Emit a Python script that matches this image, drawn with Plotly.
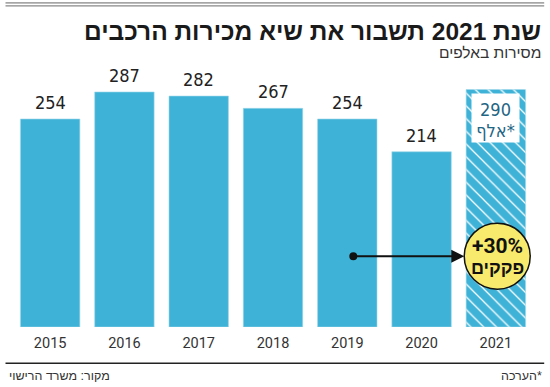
import plotly.graph_objects as go

years = ["2015", "2016", "2017", "2018", "2019", "2020", "2021"]
sales = [254, 287, 282, 267, 254, 214, 290]
value_labels = ["254", "287", "282", "267", "254", "214", ""]
patterns = ["", "", "", "", "", "", "\\"]

title = "שנת 2021 תשבור את שיא מכירות הרכבים"
subtitle = "מסירות באלפים"
source = "מקור: משרד הרישוי"
note = "הערכה*"
est_value = "290"
est_unit = "אלף*"
bubble_top = "+30%"
bubble_bottom = "פקקים"

W, H = 550, 387
L, R, T, B = 12.5, 17.2, 60, 60.3
PW = W - L - R
PH = H - T - B
BASE = H - B
YMAX = PH / 0.818

def px(x):
    return (x - L) / PW

def py(y):
    return (BASE - y) / PH

BLUE = "#3fb3d7"
NARROW = "Liberation Sans Narrow, DejaVu Sans Condensed, Roboto, sans-serif"
HEB = "Liberation Sans, DejaVu Sans, sans-serif"

fig = go.Figure()
fig.add_trace(go.Bar(
    x=years, y=sales,
    marker=dict(color=BLUE, line=dict(color="#9fd6ea", width=0.6),
                pattern=dict(shape=patterns, fgcolor="white", bgcolor=BLUE,
                             size=9, solidity=0.14, fillmode="replace")),
    hoverinfo="skip",
))

ann = []
for i, (v, lab) in enumerate(zip(sales, value_labels)):
    if lab:
        ann.append(dict(x=i, y=v, text=lab, showarrow=False, yanchor="bottom",
                        yshift=4, font=dict(family=NARROW, size=18, color="#222")))

# estimate box on 2021 bar
last = len(years) - 1
ann.append(dict(x=last, y=sales[last], text=est_value, showarrow=False,
                yanchor="top", yshift=-3.5, width=47, height=26, bgcolor="white",
                borderpad=0, valign="bottom",
                font=dict(family=NARROW, size=18, color="#1f6685")))
ann.append(dict(x=last, y=sales[last], text=est_unit, showarrow=False,
                yanchor="top", yshift=-29.5, width=47, height=22, bgcolor="white",
                borderpad=0, valign="top",
                font=dict(family=NARROW, size=18, color="#1f6685")))

# title / subtitle
ann.append(dict(xref="paper", yref="paper", x=px(543), y=py(32), text="<b>" + title + "</b>",
                showarrow=False, xanchor="right", yanchor="middle",
                font=dict(family=HEB, size=24.5, color="#1a1a1a")))
ann.append(dict(xref="paper", yref="paper", x=px(543), y=py(53), text=subtitle,
                showarrow=False, xanchor="right", yanchor="middle",
                font=dict(family=HEB, size=15.5, color="#333")))
# footer
ann.append(dict(xref="paper", yref="paper", x=px(6), y=py(376), text=source,
                showarrow=False, xanchor="left", yanchor="middle",
                font=dict(family=HEB, size=12.5, color="#333")))
ann.append(dict(xref="paper", yref="paper", x=px(544), y=py(376), text=note,
                showarrow=False, xanchor="right", yanchor="middle",
                font=dict(family=HEB, size=12.5, color="#333")))

# arrow
ann.append(dict(xref="paper", yref="paper", x=px(464), y=py(256), ax=-110, ay=0,
                text="", showarrow=True, arrowhead=2, arrowsize=1.3, arrowwidth=2,
                arrowcolor="#111"))
# bubble text
ann.append(dict(xref="paper", yref="paper", x=px(497), y=py(246), text="<b>" + bubble_top + "</b>",
                showarrow=False, xanchor="center", yanchor="middle",
                font=dict(family="Roboto, sans-serif", size=21, color="#111")))
ann.append(dict(xref="paper", yref="paper", x=px(497), y=py(268), text="<b>" + bubble_bottom + "</b>",
                showarrow=False, xanchor="center", yanchor="middle",
                font=dict(family=HEB, size=18, color="#111")))

shapes = [
    dict(type="line", xref="paper", yref="paper", x0=px(5), x1=px(544), y0=py(3), y1=py(3),
         line=dict(color="#666", width=1)),
    dict(type="line", xref="paper", yref="paper", x0=px(5), x1=px(544), y0=py(6), y1=py(6),
         line=dict(color="#888", width=1.2)),
    dict(type="line", xref="paper", yref="paper", x0=px(5), x1=px(544), y0=py(363), y1=py(363),
         line=dict(color="#222", width=1.5)),
    dict(type="circle", xref="paper", yref="paper", x0=px(349), x1=px(357), y0=py(252), y1=py(260),
         fillcolor="#111", line=dict(width=0), layer="above"),
    dict(type="circle", xref="paper", yref="paper", x0=px(464), x1=px(530), y0=py(223), y1=py(289),
         fillcolor="#f8ea6c", line=dict(color="#111", width=1.5), layer="above"),
]

fig.update_layout(
    width=W, height=H,
    margin=dict(l=L, r=R, t=T, b=B, pad=0),
    paper_bgcolor="white", plot_bgcolor="white",
    bargap=0.2, showlegend=False,
    annotations=ann, shapes=shapes,
    xaxis=dict(type="category", range=[-0.5, 6.5], showgrid=False, zeroline=False,
               showline=False, ticks="", ticklabelstandoff=5,
               tickfont=dict(family="Roboto, sans-serif", size=14.5, color="#333")),
    yaxis=dict(range=[0, YMAX], visible=False),
)

fig.write_html("out.html", config={"displayModeBar": False},
               post_script="document.body.style.margin='0';document.body.style.overflow='hidden';")
